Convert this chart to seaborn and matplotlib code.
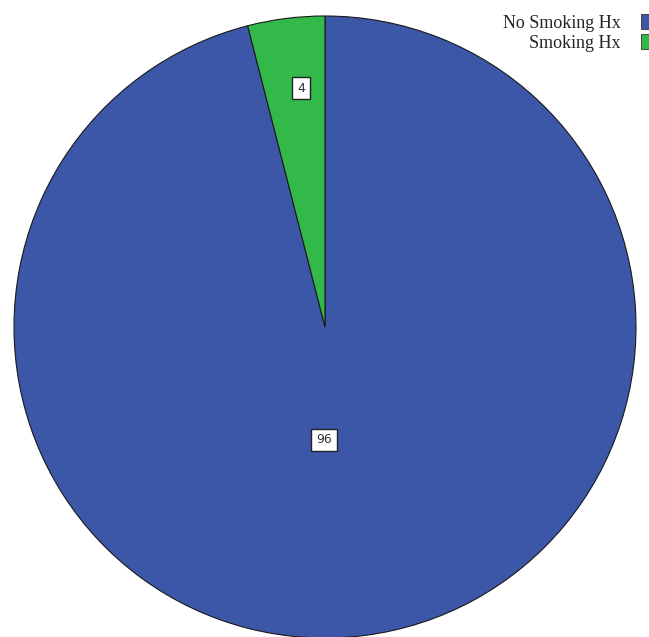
import numpy as np
import matplotlib
matplotlib.use("Agg")
import matplotlib.pyplot as plt
import seaborn as sns

categories = ["No Smoking Hx", "Smoking Hx"]
values = [96, 4]
colors = ["#3C56A8", "#33B84A"]

sns.set_theme(style="white")
plt.rcParams["font.family"] = ["Liberation Serif", "DejaVu Serif"]

fig = plt.figure(figsize=(6.49, 6.37), dpi=100)
cx, cy, r = 325, 327, 311
W, H = 649, 637
ax = fig.add_axes([(cx - r) / W, (H - cy - r) / H, 2 * r / W, 2 * r / H])

wedges, _ = ax.pie(values, colors=colors, startangle=90, counterclock=False,
                   wedgeprops=dict(edgecolor="#1a1a1a", linewidth=0.8))
ax.set_xlim(-1, 1)
ax.set_ylim(-1, 1)
ax.set_aspect("equal")
ax.axis("off")

# value labels in small boxes: (radius, angle in degrees) for each wedge
label_pos = {"No Smoking Hx": (0.363, 269.5), "Smoking Hx": (0.772, 95.7)}
for cat, v in zip(categories, values):
    rr, a = label_pos[cat]
    a = np.deg2rad(a)
    ax.text(rr * np.cos(a), rr * np.sin(a), f"{v}", ha="center", va="center",
            fontsize=9, family="DejaVu Sans", color="#333333",
            bbox=dict(boxstyle="square,pad=0.38", fc="white", ec="#222222", lw=1.0))

leg = fig.legend(wedges, categories, loc="upper right", bbox_to_anchor=(1.026, 1.0),
                 markerfirst=False, frameon=False, fontsize=13, handlelength=0.6,
                 handleheight=0.9, handletextpad=1.1, labelspacing=0.12, borderpad=0.3)
for h in leg.legend_handles:
    h.set_edgecolor("#333333")
    h.set_linewidth(0.6)

fig.savefig("out.png", dpi=100)
